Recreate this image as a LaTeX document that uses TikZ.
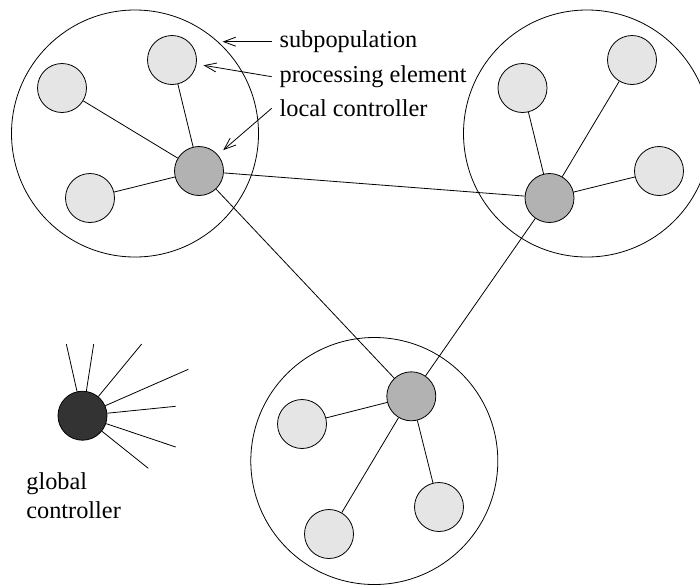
\documentclass[tikz,border=0pt]{standalone}
\usepackage{fontspec}
\setmainfont{Liberation Serif}
\newfontfamily\labelfont{Liberation Serif}
\usetikzlibrary{arrows.meta}
\definecolor{pefill}{gray}{0.9}
\definecolor{lcfill}{gray}{0.7}
\definecolor{gcfill}{gray}{0.2}
\begin{document}
\begin{tikzpicture}[x=1pt,y=-1pt,line width=0.8pt,
  region/.style={circle,draw,minimum size=247pt,inner sep=0pt},
  pe/.style={circle,draw,fill=pefill,minimum size=49pt,inner sep=0pt},
  lc/.style={circle,draw,fill=lcfill,minimum size=49pt,inner sep=0pt},
  gctrl/.style={circle,draw,fill=gcfill,minimum size=49pt,inner sep=0pt},
  txt/.style={font=\labelfont\fontsize{24.3}{29}\selectfont},
  lbl/.style={txt,inner xsep=7.5pt,inner ysep=0pt,anchor=west},
  pointer/.style={-{Straight Barb[length=12pt,width=9pt]}}]
\useasboundingbox (0,0) rectangle (700,584);
\clip (0,0) rectangle (700,584);

% subpopulations
\node[region] (tl) at (135,133.5) {};
\node[region] (tr) at (587,133.5) {};
\node[region] (bt) at (374.3,461) {};

% upper left subpopulation
\node[pe] (pea) at (172,60) {};
\node[pe] (peb) at (62,88) {};
\node[pe] (pec) at (90,198) {};
\node[lc] (lca) at (199,171) {};

% upper right subpopulation
\node[pe] (ped) at (522.5,88) {};
\node[pe] (pee) at (632,60) {};
\node[pe] (pef) at (659,171) {};
\node[lc] (lcb) at (549.5,198) {};

% lower subpopulation
\node[pe] (peg) at (302,424) {};
\node[pe] (peh) at (439,507) {};
\node[pe] (pei) at (329,534) {};
\node[lc] (lcc) at (411.3,396.3) {};

% links inside each subpopulation
\draw (lca) -- (pea);
\draw (lca) -- (peb);
\draw (lca) -- (pec);
\draw (lcb) -- (ped);
\draw (lcb) -- (pee);
\draw (lcb) -- (pef);
\draw (lcc) -- (peg);
\draw (lcc) -- (peh);
\draw (lcc) -- (pei);

% links between local controllers
\draw (lca) -- (lcb);
\draw (lca) -- (lcc);
\draw (lcb) -- (lcc);

% global controller with its outgoing links
\node[gctrl] (gc) at (82.5,415.7) {};
\coordinate (g1) at (66.3,344);
\coordinate (g2) at (93.7,344);
\coordinate (g3) at (141.7,344);
\coordinate (g4) at (188.3,369.3);
\coordinate (g5) at (175.7,406.3);
\coordinate (g6) at (175.7,447);
\coordinate (g7) at (148.3,468.3);
\foreach \g in {g1,g2,g3,g4,g5,g6,g7}
  \draw (gc) -- (\g);

% labels
\node[lbl] (lsub) at (271.7,41.7) {subpopulation};
\node[lbl] (lpe) at (271.7,76.7) {processing element};
\node[lbl] (llc) at (271.7,108.3) {local controller};
\node[txt,align=left,anchor=base west,inner sep=0pt]
  (lgc) at (26,518.3) {global\\controller};

\draw[pointer] (lsub.west) -- (lsub.west -| tl.north east);
\draw[pointer,shorten >=7pt] (lpe.west) -- (pea);
\draw[pointer,shorten >=7pt] (llc.west) -- (lca);
\end{tikzpicture}
\end{document}
